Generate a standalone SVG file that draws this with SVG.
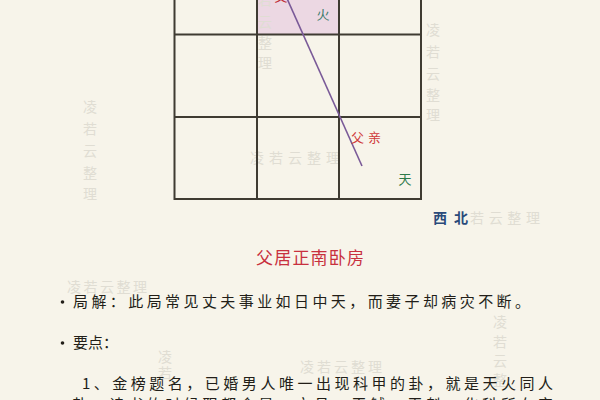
<svg xmlns="http://www.w3.org/2000/svg" width="600" height="400" viewBox="0 0 600 400">
<style>
.wm{font-family:"Noto Sans CJK SC","Noto Sans",sans-serif;font-size:14px;fill:#e0ddd3}
.grid{stroke:#3f3b32;stroke-width:2;fill:none}
.lbl{font-family:"Noto Sans CJK SC","Noto Sans",sans-serif;font-size:13px;text-anchor:middle}
.body{font-family:"Noto Sans CJK SC","Noto Sans",sans-serif;font-size:15px;fill:#221e18}
</style>
<rect width="600" height="400" fill="#f7f4ea"/>
<g id="cell-pink"><rect x="257" y="-50" width="82" height="85" fill="#ecd8e3"/></g>
<g id="watermarks">
<text class="wm" text-anchor="middle"><tspan x="90" y="112">凌</tspan><tspan x="90" y="134">若</tspan><tspan x="90" y="156">云</tspan><tspan x="90" y="178">整</tspan><tspan x="90" y="199">理</tspan></text>
<text class="wm" text-anchor="middle"><tspan x="433" y="35">凌</tspan><tspan x="433" y="57">若</tspan><tspan x="433" y="79">云</tspan><tspan x="433" y="100">整</tspan><tspan x="433" y="120">理</tspan></text>
<text class="wm" text-anchor="middle" fill="#d6cfd0"><tspan x="265" y="5">若</tspan><tspan x="265" y="27">云</tspan><tspan x="265" y="48">整</tspan><tspan x="265" y="68">理</tspan></text>
<text class="wm" x="250" y="163" textLength="90">凌若云整理</text>
<text class="wm" x="470" y="223" textLength="70">若云整理</text>
<text class="wm" x="67" y="292" textLength="80" font-size="13">凌若云整理</text>
<text class="wm" text-anchor="middle"><tspan x="165" y="362">凌</tspan><tspan x="165" y="378">若</tspan></text>
<text class="wm" x="300" y="372" textLength="82" font-size="13">凌若云整理</text>
<text class="wm" text-anchor="middle"><tspan x="500" y="327">凌</tspan><tspan x="500" y="347">若</tspan><tspan x="500" y="366">云</tspan><tspan x="500" y="385">整</tspan></text>
</g>
<g id="grid">
<rect class="grid" x="174.5" y="-50" width="246.5" height="249"/>
<line class="grid" x1="257" y1="-50" x2="257" y2="199"/>
<line class="grid" x1="339" y1="-50" x2="339" y2="199"/>
<line class="grid" x1="174.5" y1="34.5" x2="421" y2="34.5"/>
<line class="grid" x1="174.5" y1="117" x2="421" y2="117"/>
</g>
<g id="connectors">
<line x1="278.7" y1="-20" x2="362" y2="166" stroke="#7a5a98" stroke-width="1.6"/>
</g>
<g id="node-top-mark"><text class="lbl" x="281" y="1" font-size="11" fill="#c0303a">父</text></g>
<g id="node-huo"><text class="lbl" x="323" y="19" fill="#3a7a6a">火</text></g>
<g id="node-fuqin"><text class="lbl" x="368" y="142" fill="#d03a3a" letter-spacing="4">父亲</text></g>
<g id="node-tian"><text class="lbl" x="405" y="184" fill="#2e7a4a">天</text></g>
<g id="node-xibei"><text x="433" y="223" font-family="Noto Sans CJK SC,sans-serif" font-size="14" font-weight="bold" fill="#2a4a7a" textLength="35">西北</text></g>
<g id="title"><text x="310" y="264" text-anchor="middle" font-family="Noto Sans CJK SC,sans-serif" font-size="17" fill="#c8303e" textLength="108">父居正南卧房</text></g>
<g id="body">
<circle cx="62.5" cy="302" r="1.8" fill="#221e18"/>
<text class="body" x="73" y="307" textLength="457">局解：此局常见丈夫事业如日中天，而妻子却病灾不断。</text>
<circle cx="62.5" cy="343" r="1.8" fill="#221e18"/>
<text class="body" x="73" y="348" textLength="45">要点：</text>
<text class="body" x="82" y="389" textLength="471">1、金榜题名，已婚男人唯一出现科甲的卦，就是天火同人</text>
<text class="body" x="72" y="410" textLength="481">卦，读书的时候职都会是，文昌，天钺，天魁，化科所在宫</text>
</g>
</svg>
